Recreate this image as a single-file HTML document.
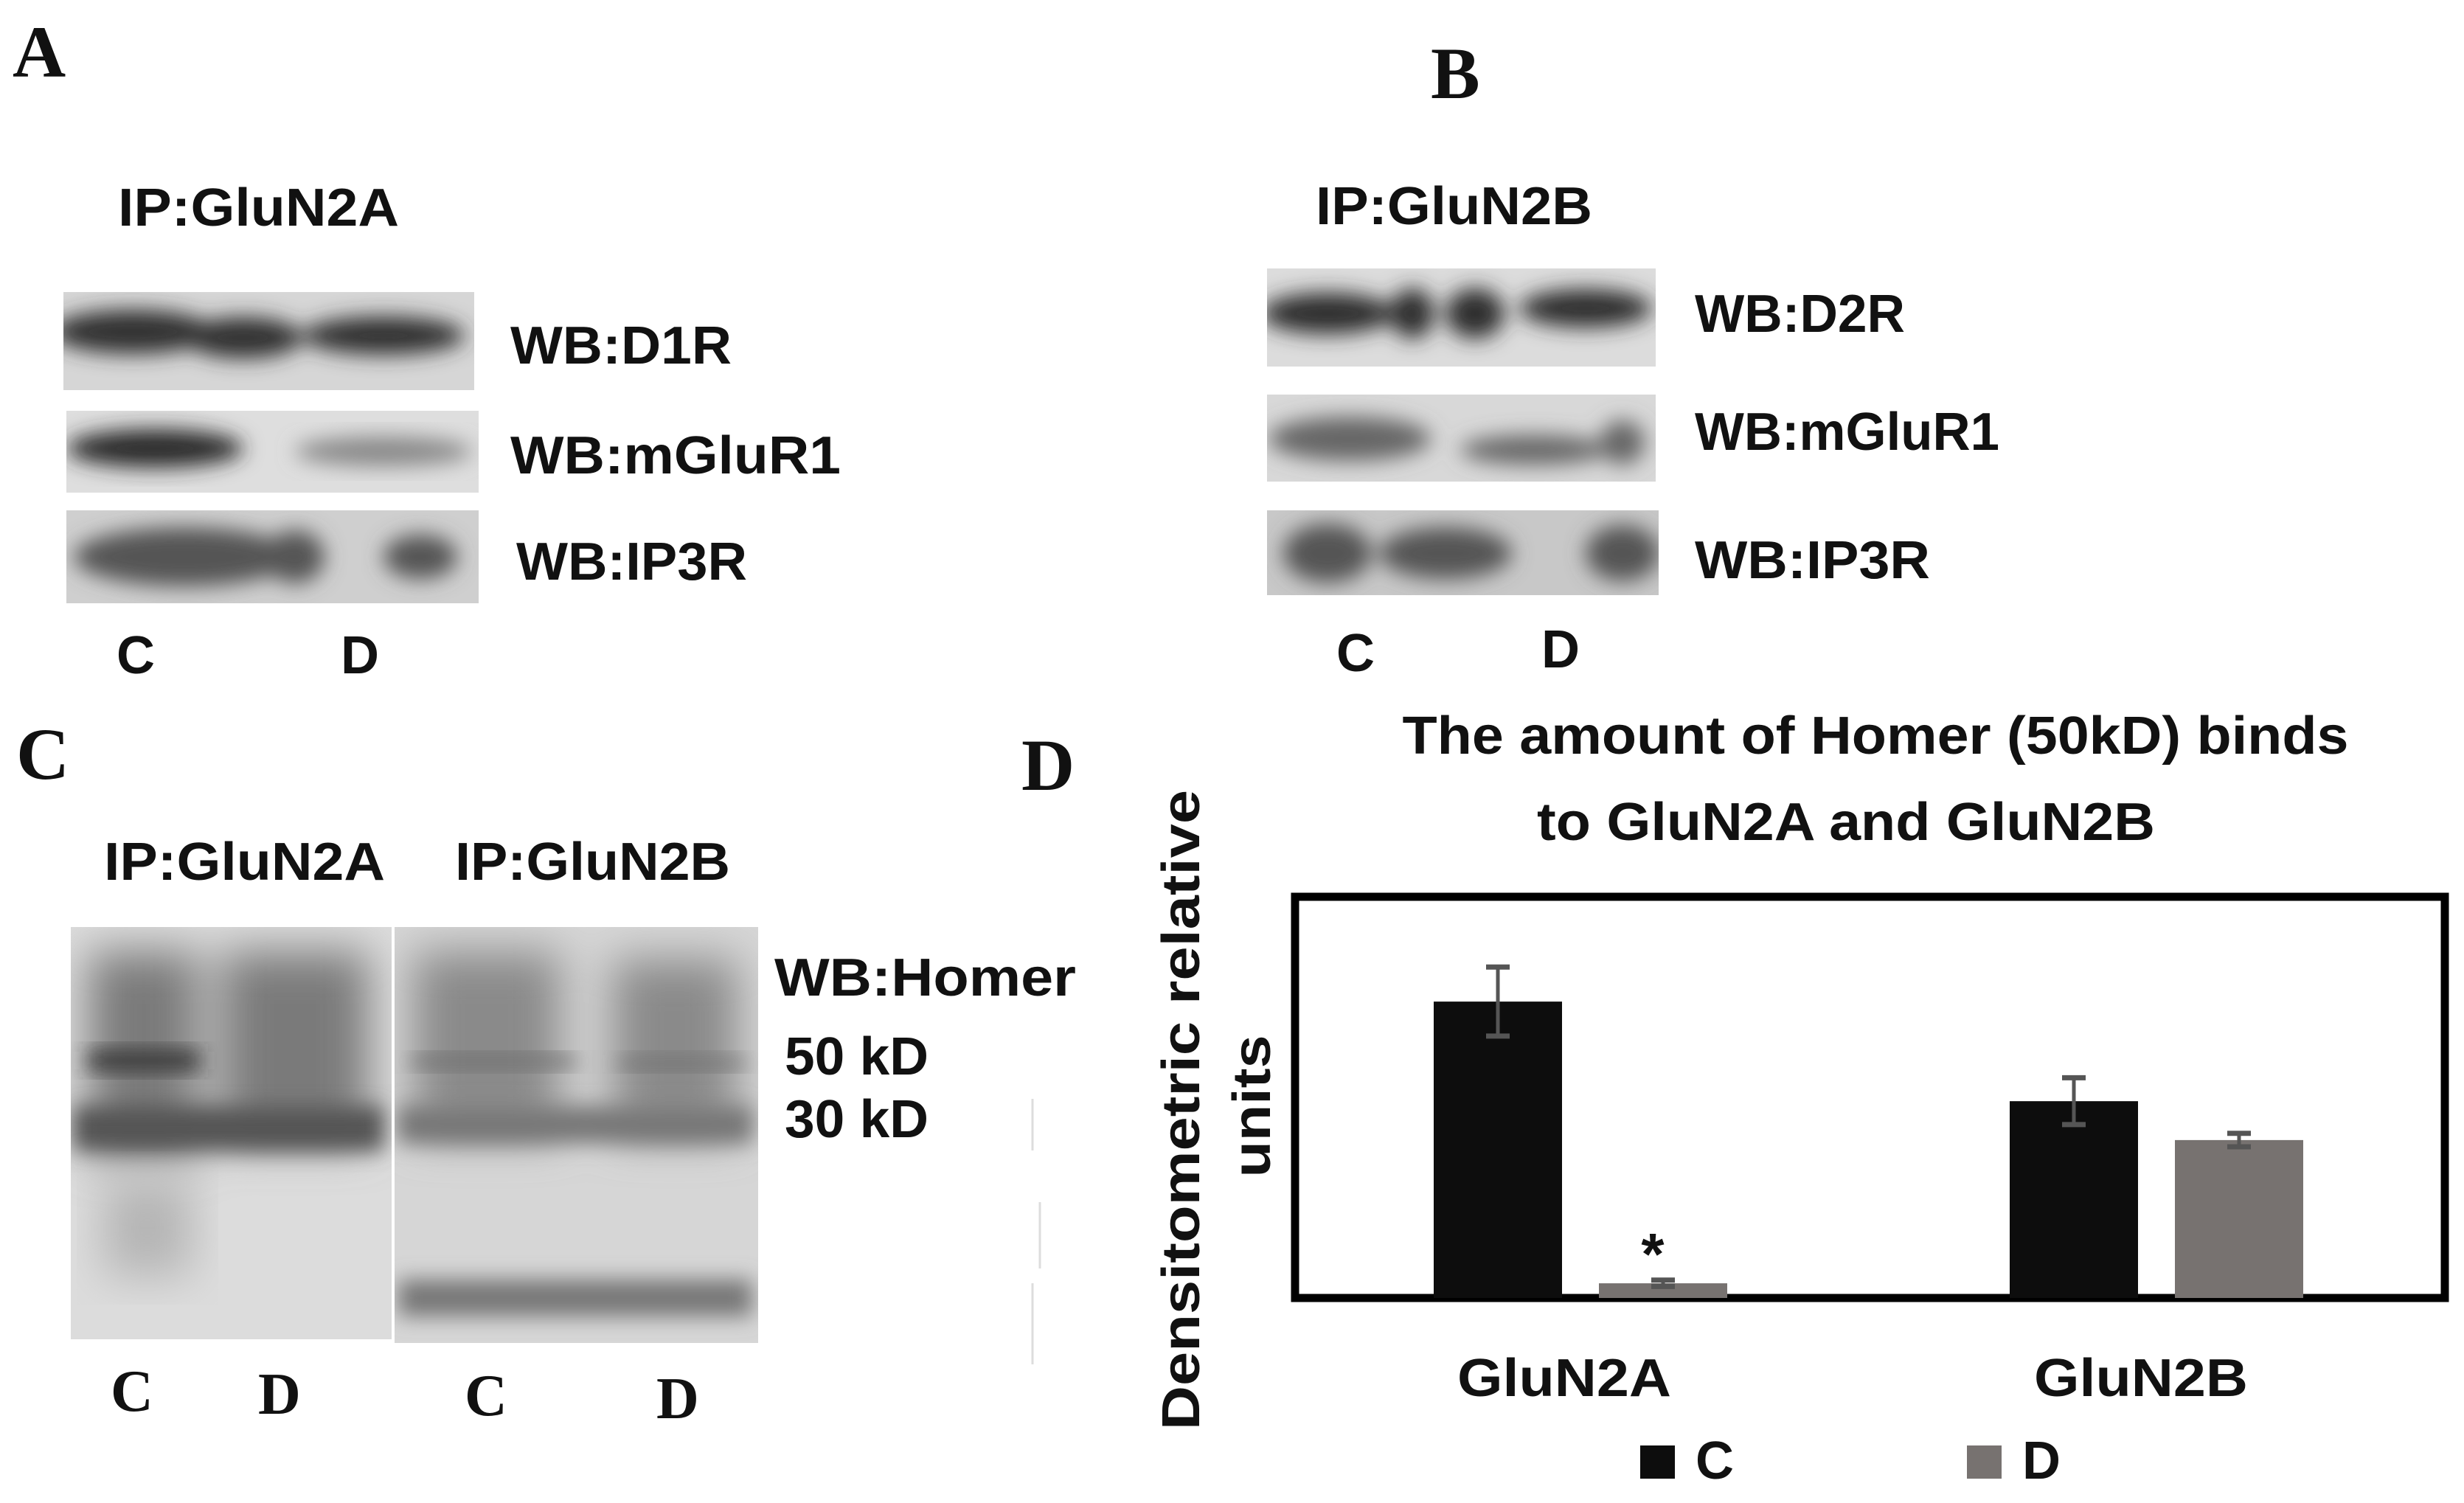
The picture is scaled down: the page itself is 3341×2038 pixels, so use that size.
<!DOCTYPE html>
<html><head><meta charset="utf-8">
<style>
html,body{margin:0;padding:0;background:#fff;}
svg{display:block;}
text{font-family:"Liberation Sans",sans-serif;}
.lab{font-weight:bold;font-size:72px;fill:#111;}
.serif{font-family:"Liberation Serif",serif;font-weight:bold;fill:#111;}
</style></head>
<body>
<svg id="fig" width="3341" height="2038" viewBox="0 0 3341 2038" xmlns="http://www.w3.org/2000/svg">
<defs>
<filter id="blur" x="-20%" y="-50%" width="140%" height="200%"><feGaussianBlur stdDeviation="14"/></filter>
<filter id="blur2" x="-30%" y="-30%" width="160%" height="160%"><feGaussianBlur stdDeviation="30"/></filter>
<clipPath id="cA1"><rect x="86" y="396" width="557" height="133"/></clipPath>
<clipPath id="cA2"><rect x="90" y="557" width="559" height="111"/></clipPath>
<clipPath id="cA3"><rect x="90" y="692" width="559" height="126"/></clipPath>
<clipPath id="cB1"><rect x="1718" y="364" width="527" height="133"/></clipPath>
<clipPath id="cB2"><rect x="1718" y="535" width="527" height="118"/></clipPath>
<clipPath id="cB3"><rect x="1718" y="692" width="531" height="115"/></clipPath>
<clipPath id="cC1"><rect x="96" y="1257" width="435" height="559"/></clipPath>
<clipPath id="cC2"><rect x="535" y="1257" width="493" height="564"/></clipPath>
</defs>

<!-- Panel A -->
<g>
<text class="serif" x="17" y="104" font-size="100">A</text>
<text class="lab" x="160" y="306" textLength="381" lengthAdjust="spacingAndGlyphs">IP:GluN2A</text>
<g clip-path="url(#cA1)">
<rect x="86" y="396" width="557" height="133" fill="#d6d6d6"/>
<g filter="url(#blur)" fill="#333"><ellipse cx="180" cy="450" rx="110" ry="30"/><ellipse cx="330" cy="458" rx="80" ry="28"/><ellipse cx="520" cy="455" rx="110" ry="26"/></g>
</g>
<g clip-path="url(#cA2)">
<rect x="90" y="557" width="559" height="111" fill="#dedede"/>
<g filter="url(#blur)" fill="#2a2a2a"><ellipse cx="210" cy="608" rx="120" ry="26"/></g>
<g filter="url(#blur)" fill="#888"><ellipse cx="520" cy="612" rx="120" ry="20"/></g>
</g>
<g clip-path="url(#cA3)">
<rect x="90" y="692" width="559" height="126" fill="#cfcfcf"/>
<g filter="url(#blur)" fill="#555"><ellipse cx="250" cy="755" rx="150" ry="40"/><ellipse cx="400" cy="755" rx="40" ry="36"/><ellipse cx="570" cy="755" rx="50" ry="30"/></g>
</g>
<text class="lab" x="692" y="493" textLength="300" lengthAdjust="spacingAndGlyphs">WB:D1R</text>
<text class="lab" x="692" y="642" textLength="448" lengthAdjust="spacingAndGlyphs">WB:mGluR1</text>
<text class="lab" x="700" y="786" textLength="313" lengthAdjust="spacingAndGlyphs">WB:IP3R</text>
<text class="lab" x="158" y="913">C</text>
<text class="lab" x="462" y="913">D</text>
</g>

<!-- Panel B -->
<g>
<text class="serif" x="1940" y="133" font-size="100">B</text>
<text class="lab" x="1784" y="304" textLength="375" lengthAdjust="spacingAndGlyphs">IP:GluN2B</text>
<g clip-path="url(#cB1)">
<rect x="1718" y="364" width="527" height="133" fill="#dcdcdc"/>
<g filter="url(#blur)" fill="#2f2f2f"><ellipse cx="1800" cy="425" rx="90" ry="28"/><ellipse cx="1915" cy="425" rx="30" ry="34"/><ellipse cx="2000" cy="425" rx="40" ry="34"/><ellipse cx="2150" cy="418" rx="90" ry="26"/></g>
</g>
<g clip-path="url(#cB2)">
<rect x="1718" y="535" width="527" height="118" fill="#d8d8d8"/>
<g filter="url(#blur)" fill="#666"><ellipse cx="1830" cy="595" rx="110" ry="30"/><ellipse cx="2080" cy="610" rx="100" ry="20"/><ellipse cx="2200" cy="600" rx="30" ry="30"/></g>
</g>
<g clip-path="url(#cB3)">
<rect x="1718" y="692" width="531" height="115" fill="#c8c8c8"/>
<g filter="url(#blur)" fill="#555"><ellipse cx="1800" cy="750" rx="60" ry="40"/><ellipse cx="1960" cy="750" rx="90" ry="35"/><ellipse cx="2200" cy="750" rx="50" ry="38"/></g>
</g>
<text class="lab" x="2298" y="450" textLength="285" lengthAdjust="spacingAndGlyphs">WB:D2R</text>
<text class="lab" x="2298" y="610" textLength="413" lengthAdjust="spacingAndGlyphs">WB:mGluR1</text>
<text class="lab" x="2298" y="784" textLength="319" lengthAdjust="spacingAndGlyphs">WB:IP3R</text>
<text class="lab" x="1812" y="910">C</text>
<text class="lab" x="2090" y="905">D</text>
</g>

<!-- Panel C -->
<g>
<text class="serif" x="22" y="1056" font-size="100">C</text>
<text class="lab" x="141" y="1193" textLength="381" lengthAdjust="spacingAndGlyphs">IP:GluN2A</text>
<text class="lab" x="617" y="1193" textLength="373" lengthAdjust="spacingAndGlyphs">IP:GluN2B</text>
<g clip-path="url(#cC1)">
<rect x="96" y="1257" width="435" height="559" fill="#dcdcdc"/>
<g filter="url(#blur2)" fill="#7a7a7a"><rect x="120" y="1290" width="150" height="280"/><rect x="300" y="1290" width="200" height="260"/></g>
<g filter="url(#blur)" fill="#555"><rect x="100" y="1500" width="420" height="60"/></g>
<g filter="url(#blur)" fill="#333"><rect x="120" y="1425" width="150" height="26"/></g>
<g filter="url(#blur2)" fill="#b5b5b5"><rect x="140" y="1600" width="120" height="130"/></g>
</g>
<g clip-path="url(#cC2)">
<rect x="535" y="1257" width="493" height="564" fill="#d6d6d6"/>
<g filter="url(#blur2)" fill="#8a8a8a"><rect x="560" y="1290" width="200" height="250"/><rect x="830" y="1300" width="170" height="240"/></g>
<g filter="url(#blur)" fill="#777"><rect x="540" y="1500" width="480" height="50"/><rect x="540" y="1735" width="480" height="50"/></g>
<g filter="url(#blur)" fill="#666"><rect x="560" y="1432" width="220" height="14"/><rect x="840" y="1436" width="170" height="12"/></g>
</g>
<text class="lab" x="1050" y="1350" textLength="409" lengthAdjust="spacingAndGlyphs">WB:Homer</text>
<text class="lab" x="1064" y="1457" textLength="195" lengthAdjust="spacingAndGlyphs">50 kD</text>
<text class="lab" x="1064" y="1542" textLength="195" lengthAdjust="spacingAndGlyphs">30 kD</text>
<text class="serif" x="150" y="1913" font-size="80">C</text>
<text class="serif" x="350" y="1917" font-size="80">D</text>
<text class="serif" x="630" y="1919" font-size="80">C</text>
<text class="serif" x="890" y="1923" font-size="80">D</text>
<line x1="1400" y1="1490" x2="1400" y2="1560" stroke="#ddd" stroke-width="3"/>
<line x1="1410" y1="1630" x2="1410" y2="1720" stroke="#ddd" stroke-width="3"/>
<line x1="1400" y1="1740" x2="1400" y2="1850" stroke="#ddd" stroke-width="3"/>
</g>

<!-- Panel D chart -->
<g id="chart">
<text class="serif" x="1385" y="1071" font-size="100">D</text>
<text class="lab" x="2543" y="1022" text-anchor="middle" textLength="1283" lengthAdjust="spacingAndGlyphs">The amount of Homer (50kD) binds</text>
<text class="lab" x="2503" y="1139" text-anchor="middle" textLength="838" lengthAdjust="spacingAndGlyphs">to GluN2A and GluN2B</text>
<text class="lab" font-size="82" transform="translate(1626,1505) rotate(-90)" text-anchor="middle" textLength="868" lengthAdjust="spacingAndGlyphs">Densitometric relative</text>
<text class="lab" font-size="82" transform="translate(1722,1500) rotate(-90)" text-anchor="middle" textLength="193" lengthAdjust="spacingAndGlyphs">units</text>
<rect x="1756" y="1216" width="1559" height="544" fill="none" stroke="#000" stroke-width="11"/>
<g id="bars"></g>
<g id="cats"></g>
<g id="legend"></g>
</g>
</svg>
<script>
const categories = ["GluN2A", "GluN2B"];
const seriesNames = ["C", "D"];
const valuesC = [74.7, 49.6];
const valuesD = [3.7, 39.8];
const errorsC = [8.7, 5.9];
const errorsD = [0.8, 1.7];
const sigD = [true, false];

const NS = "http://www.w3.org/2000/svg";
const y0 = 1760, yTop = 1222, yMaxVal = 100;
function yScale(v){ return y0 - (v / yMaxVal) * (y0 - yTop); }
const barW = 174;
function barX(i, s){ return 1944 + i * 781 + s * 224; }
function catCenter(i){ return 2121 + i * 782; }
const colors = ["#0d0d0d", "#777270"];

function mk(tag, attrs, parent){
  const e = document.createElementNS(NS, tag);
  for (const k in attrs) e.setAttribute(k, attrs[k]);
  parent.appendChild(e);
  return e;
}
const gb = document.getElementById("bars");
const series = [valuesC, valuesD];
const errs = [errorsC, errorsD];
categories.forEach((c, i) => {
  [0,1].forEach(s => {
    const v = series[s][i];
    const x = barX(i, s);
    const r = mk("rect", {x: x, y: yScale(v), width: barW, height: y0 - yScale(v), fill: colors[s]}, gb);
    
    
    const cx = x + barW/2, e = errs[s][i];
    const g = mk("g", {stroke: "#555", "stroke-width": 5}, gb);
    
    
    mk("line", {x1: cx, x2: cx, y1: yScale(v + e), y2: yScale(v - e)}, g);
    mk("line", {x1: cx - 16, x2: cx + 16, y1: yScale(v + e), y2: yScale(v + e), "stroke-width": 7}, g);
    mk("line", {x1: cx - 16, x2: cx + 16, y1: yScale(v - e), y2: yScale(v - e), "stroke-width": 7}, g);
    if (s === 1 && sigD[i]) {
      const t = mk("text", {x: cx - 14, y: yScale(v + e) - 8, "font-size": 80, "font-weight": "bold", "text-anchor": "middle", fill: "#111"}, gb);
      t.textContent = "*";
      
      
    }
  });
  const t = mk("text", {x: catCenter(i), y: 1893, "text-anchor": "middle", class: "lab", "font-size": 72, textLength: 290, lengthAdjust: "spacingAndGlyphs"}, document.getElementById("cats"));
  t.textContent = c;
  
  
});
const gl = document.getElementById("legend");
const legX = [2224, 2667];
seriesNames.forEach((n, s) => {
  const g = mk("g", {}, gl);
  
  
  mk("rect", {x: legX[s], y: 1960, width: 47, height: 45, fill: colors[s]}, g);
  const t = mk("text", {x: legX[s] + 75, y: 2005, class: "lab", "font-size": 72}, g);
  t.textContent = n;
});
</script>
</body></html>
